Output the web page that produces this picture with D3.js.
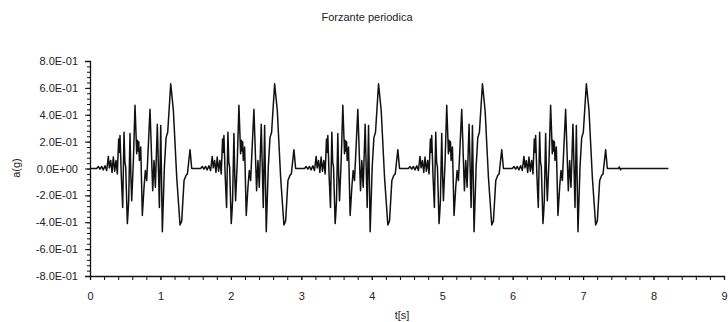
<!DOCTYPE html>
<html>
<head>
<meta charset="utf-8">
<script src="https://cdn.jsdelivr.net/npm/d3@7"></script>
<style>
  body { margin: 0; background: #fff; }
  text { font-family: "Liberation Sans", Arial, sans-serif; fill: #222; }
</style>
</head>
<body>
<div class="chart"></div>
<script>
// one cycle of the forcing (time offset in s, acceleration in g)
const cycleT = [0, 0.095, 0.118, 0.142, 0.166, 0.189, 0.213, 0.237, 0.260, 0.275,
    0.294, 0.313, 0.331, 0.350, 0.369, 0.388, 0.407, 0.418, 0.426, 0.445, 0.464,
    0.483, 0.495, 0.507, 0.530, 0.540, 0.549, 0.568, 0.580, 0.592, 0.616, 0.639, 0.663, 0.672, 0.682,
    0.692, 0.701, 0.720, 0.743, 0.767, 0.786, 0.805, 0.852, 0.890, 0.909, 0.928,
    0.956, 0.985, 1.004, 1.027, 1.056, 1.080, 1.103, 1.146, 1.184, 1.231,
    1.278, 1.302, 1.335, 1.364, 1.383, 1.420, 1.444];
const cycleA = [0, 0, 0.015, -0.005, 0.015, -0.01, 0.02, -0.015, 0.09, 0.005,
    0.06, -0.03, 0.085, -0.02, 0.06, -0.04, 0.22, 0.12, 0.245, -0.065, -0.29,
    0.27, 0.05, 0.01, -0.41, -0.33, -0.24, 0.26, -0.05, -0.24, 0.06, 0.47, 0.11, 0.21, 0.13,
    0.2, 0.06, 0.16, -0.35, -0.14, -0.015, -0.09, 0.44, -0.165, 0.06, -0.14,
    0.33, -0.29, 0.32, -0.47, 0.01, 0.23, 0.27, 0.63, 0.43, -0.065,
    -0.42, -0.39, -0.09, -0.05, -0.04, 0.14, 0];
const period = 1.475;
const nCycles = 5;

// quiet tail after the last cycle
const tailT = [7.375, 7.50, 7.515, 7.53, 7.545, 8.21];
const tailA = [0, 0, 0.012, -0.01, 0, 0];

const xTicks = [0, 1, 2, 3, 4, 5, 6, 7, 8, 9];
const yTicks = [-0.8, -0.6, -0.4, -0.2, 0, 0.2, 0.4, 0.6, 0.8];
const yTickLabels = ["-8.0E-01", "-6.0E-01", "-4.0E-01", "-2.0E-01", "0.0E+00",
    "2.0E-01", "4.0E-01", "6.0E-01", "8.0E-01"];

// build the periodic series
let series = [];
for (let k = 0; k < nCycles; k++) {
    cycleT.forEach((t, i) => series.push([k * period + t, cycleA[i]]));
}
tailT.forEach((t, i) => series.push([t, tailA[i]]));

const width = 728, height = 322;

const svg = d3.select(".chart").append("svg")
    .attr("width", width)
    .attr("height", height);

const x = d3.scaleLinear().domain([0, 9]).range([90, 724]);
const y = d3.scaleLinear().domain([-0.8, 0.8]).range([276, 61]);

// title
svg.append("text")
    .attr("x", 367)
    .attr("y", 21)
    .attr("text-anchor", "middle")
    .style("font-size", "11px")
    .text("Forzante periodica");

// minor ticks on y
svg.append("g")
    .attr("transform", "translate(90,0)")
    .call(d3.axisLeft(y).tickValues(d3.range(-0.8, 0.801, 0.04)).tickSize(3).tickFormat(""))
    .call(g => g.select(".domain").remove())
    .selectAll("line").attr("stroke", "#111");

// major ticks on y
const yAxis = svg.append("g")
    .attr("transform", "translate(90,0)")
    .call(d3.axisLeft(y).tickValues(yTicks).tickSize(5).tickPadding(7)
        .tickFormat((d, i) => yTickLabels[i]));
yAxis.select(".domain").attr("stroke", "#111").attr("stroke-width", 1.3);
yAxis.selectAll("line").attr("stroke", "#111");
yAxis.selectAll("text").style("font-size", "11px").attr("fill", "#222");

// x axis: minor every 0.2, labels on integers
svg.append("g")
    .attr("transform", "translate(0,276)")
    .call(d3.axisBottom(x).tickValues(d3.range(0, 9.001, 0.2)).tickSize(4).tickFormat(""))
    .call(g => g.select(".domain").remove())
    .selectAll("line").attr("stroke", "#111");

const xAxis = svg.append("g")
    .attr("transform", "translate(0,276)")
    .call(d3.axisBottom(x).tickValues(xTicks).tickSize(4).tickPadding(12));
xAxis.select(".domain").attr("stroke", "#111").attr("stroke-width", 1.3);
xAxis.selectAll("line").attr("stroke", "#111");
xAxis.selectAll("text").style("font-size", "11px").attr("fill", "#222");

// axis titles
svg.append("text")
    .attr("x", 402)
    .attr("y", 319)
    .attr("text-anchor", "middle")
    .style("font-size", "11px")
    .text("t[s]");

svg.append("text")
    .attr("transform", "translate(20,168) rotate(-90)")
    .attr("text-anchor", "middle")
    .style("font-size", "11px")
    .text("a(g)");

// the signal
const line = d3.line()
    .x(d => x(d[0]))
    .y(d => y(d[1]));

svg.append("path")
    .datum(series)
    .attr("fill", "none")
    .attr("stroke", "#111")
    .attr("stroke-width", 1.5)
    .attr("stroke-linejoin", "round")
    .attr("d", line);
</script>
</body>
</html>
